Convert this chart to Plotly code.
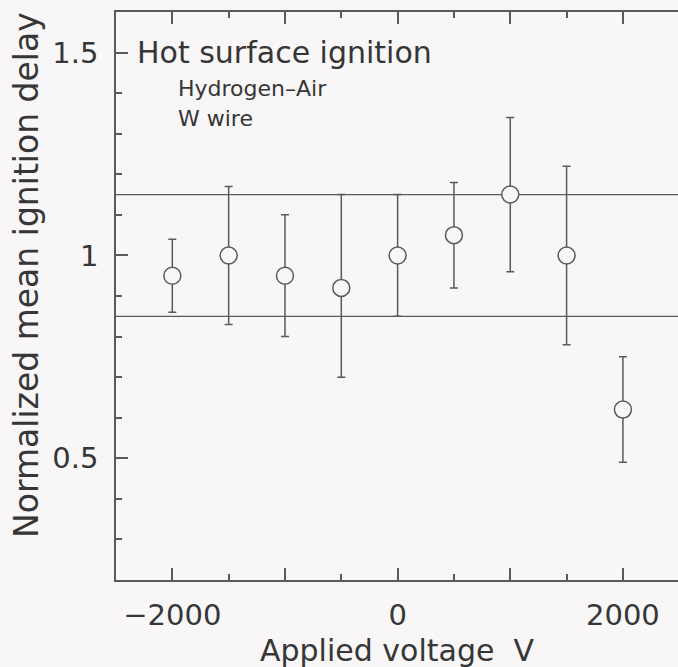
import plotly.graph_objects as go

# Applied voltage (V) and normalized mean ignition delay with its scatter range
voltage = [-2000, -1500, -1000, -500, 0, 500, 1000, 1500, 2000]
delay_mean = [0.95, 1.00, 0.95, 0.92, 1.00, 1.05, 1.15, 1.00, 0.62]
delay_upper = [1.04, 1.17, 1.10, 1.15, 1.15, 1.18, 1.34, 1.22, 0.75]
delay_lower = [0.86, 0.83, 0.80, 0.70, 0.85, 0.92, 0.96, 0.78, 0.49]

# +/-15 % band around the zero-voltage reference
band_levels = [0.85, 1.15]

x_tickvals = [-2000, -1000, 0, 1000, 2000]
x_ticktext = ["\u22122000", "", "0", "", "2000"]
y_tickvals = [0.5, 1.0, 1.5]
y_ticktext = ["0.5", "1", "1.5"]
y_range = [0.2, 1.6]

FONT = "DejaVu Sans"
INK = "#363636"
LINE = "#5a5a5a"
BG = "#f8f6f7"

err_plus = [u - m for u, m in zip(delay_upper, delay_mean)]
err_minus = [m - l for m, l in zip(delay_mean, delay_lower)]

fig = go.Figure()

for lvl in band_levels:
    fig.add_hline(y=lvl, line=dict(color=LINE, width=1.2), layer="below")

fig.add_trace(go.Scatter(
    x=voltage,
    y=delay_mean,
    mode="markers",
    marker=dict(symbol="circle", size=17, color=BG,
                line=dict(color=LINE, width=1.5)),
    error_y=dict(type="data", symmetric=False, array=err_plus,
                 arrayminus=err_minus, color=LINE, thickness=1.5, width=4),
    showlegend=False,
))

tick_common = dict(
    ticks="inside", tickcolor=LINE, tickwidth=1.5,
    showgrid=False, zeroline=False,
    tickfont=dict(family=FONT, size=29, color=INK),
)

fig.update_xaxes(
    range=[-2500, 2489], tickmode="array", tickvals=x_tickvals,
    ticktext=x_ticktext, ticklen=12, ticklabelstandoff=8,
    showline=True, linecolor=LINE, linewidth=1.5, mirror="ticks",
    minor=dict(dtick=500, tick0=0, ticks="inside", ticklen=6,
               tickcolor=LINE, tickwidth=1.5, showgrid=False),
    **tick_common,
)
fig.update_yaxes(
    range=y_range, tickmode="array", tickvals=y_tickvals,
    ticktext=y_ticktext, ticklen=12, ticklabelstandoff=10,
    showline=True, linecolor=LINE, linewidth=1.5, mirror=False,
    minor=dict(dtick=0.1, tick0=0, ticks="inside", ticklen=6,
               tickcolor=LINE, tickwidth=1.5, showgrid=False),
    **tick_common,
)
# right-hand tick marks (the frame runs off the right edge)
fig.update_layout(yaxis2=dict(
    overlaying="y", side="right", range=y_range, tickmode="array",
    tickvals=y_tickvals, showticklabels=False, ticklen=12, showline=False,
    minor=dict(dtick=0.1, tick0=0, ticks="inside", ticklen=6,
               tickcolor=LINE, tickwidth=1.5, showgrid=False),
    **tick_common,
))

annotations = [
    dict(text="Hot surface ignition", x=0.034, y=0.929, size=30),
    dict(text="Hydrogen\u2013Air", x=0.107, y=0.866, size=22),
    dict(text="W wire", x=0.107, y=0.813, size=22),
]
for a in annotations:
    fig.add_annotation(
        text=a["text"], x=a["x"], y=a["y"], xref="paper", yref="paper",
        xanchor="left", yanchor="middle", showarrow=False,
        font=dict(family=FONT, size=a["size"], color=INK),
    )

# axis titles
fig.add_annotation(
    text="Applied voltage\u00a0\u00a0V", x=0.5, y=0, xref="paper", yref="paper",
    xanchor="center", yanchor="middle", yshift=-70, showarrow=False,
    font=dict(family=FONT, size=30, color=INK),
)
fig.add_annotation(
    text="Normalized mean ignition delay", x=0, y=0.537, xref="paper",
    yref="paper", xanchor="center", yanchor="middle", xshift=-89,
    textangle=-90, showarrow=False,
    font=dict(family=FONT, size=33, color=INK),
)

fig.update_layout(
    width=678, height=667,
    margin=dict(l=116, r=0, t=12, b=87),
    paper_bgcolor=BG, plot_bgcolor=BG,
    showlegend=False,
)

fig.write_html("out.html")
